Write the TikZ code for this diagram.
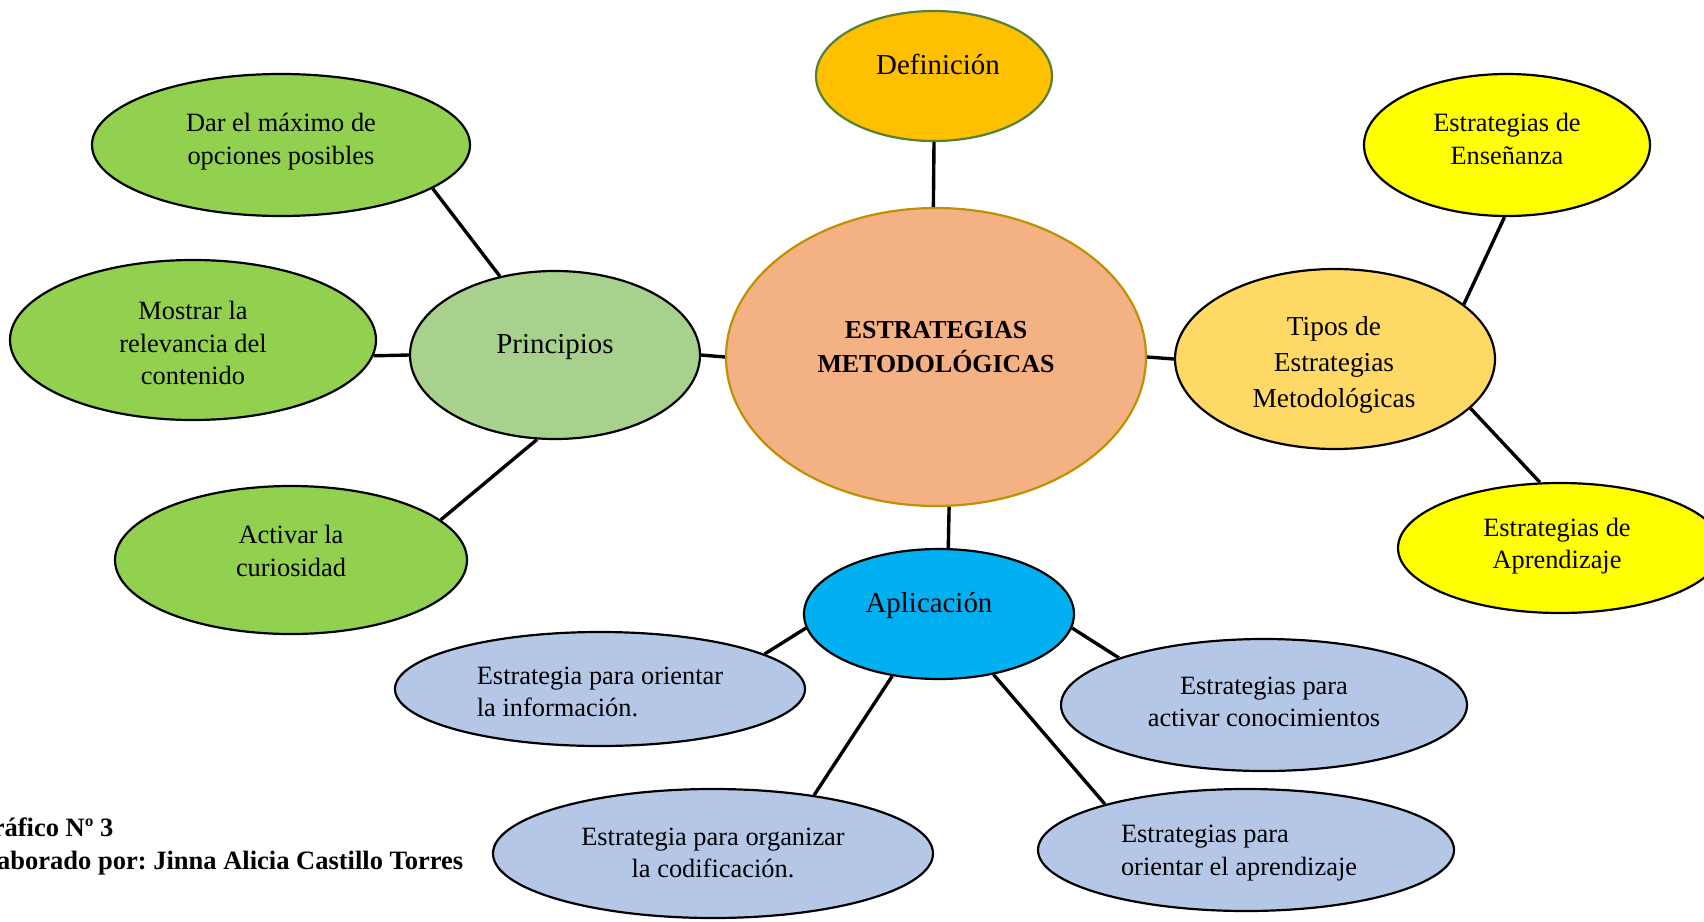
\documentclass[tikz,border=0pt]{standalone}
\usepackage{fontspec}
\setmainfont{Liberation Serif}
\usetikzlibrary{shapes.geometric}
\definecolor{cDef}{HTML}{FFC000}
\definecolor{cDefB}{HTML}{538135}
\definecolor{cCen}{HTML}{F4B183}
\definecolor{cCenB}{HTML}{BF9000}
\definecolor{cPrin}{HTML}{A9D18E}
\definecolor{cGreen}{HTML}{92D050}
\definecolor{cTipos}{HTML}{FFD966}
\definecolor{cYellow}{HTML}{FFFF00}
\definecolor{cApl}{HTML}{00B0F0}
\definecolor{cBlue}{HTML}{B4C7E7}
\frenchspacing
\begin{document}
\begin{tikzpicture}[x=1bp,y=-1bp,
  oval/.style={ellipse, draw=black, line width=2.2pt, inner sep=0pt},
  conn/.style={draw=black, line width=3.4pt},
  bigtxt/.style={font=\fontsize{29}{34}\selectfont, align=center, inner sep=0pt},
  midtxt/.style={font=\fontsize{27.5}{36.5}\selectfont, align=center, inner sep=0pt},
  smalltxt/.style={font=\fontsize{26.5}{32.5}\selectfont, align=center, inner sep=0pt},
  boldtxt/.style={font=\fontsize{26}{33.7}\selectfont\bfseries, align=center, inner sep=0pt},
  foottxt/.style={font=\fontsize{26.6}{33}\selectfont\bfseries, inner sep=0pt, anchor=base west}]
\path[use as bounding box, clip] (0,0) rectangle (1704,921);
\fill[white] (0,0) rectangle (1704,921);

% ellipses
\node[oval, fill=cDef, draw=cDefB, minimum width=236bp, minimum height=130bp] (def) at (934,76) {};
\node[oval, fill=cCen, draw=cCenB, minimum width=420bp, minimum height=298bp] (cen) at (936,357) {};
\node[oval, fill=cPrin, minimum width=290bp, minimum height=168bp] (prin) at (555,355) {};
\node[oval, fill=cGreen, minimum width=378bp, minimum height=142bp] (dar) at (281,145) {};
\node[oval, fill=cGreen, minimum width=366bp, minimum height=160bp] (most) at (193,340) {};
\node[oval, fill=cGreen, minimum width=352bp, minimum height=148bp] (act) at (291,560) {};
\node[oval, fill=cTipos, minimum width=320bp, minimum height=180bp] (tipos) at (1335,359) {};
\node[oval, fill=cYellow, minimum width=286bp, minimum height=142bp] (ens) at (1507,145) {};
\node[oval, fill=cYellow, minimum width=324bp, minimum height=130bp] (apr) at (1560,548) {};
\node[oval, fill=cApl, minimum width=270bp, minimum height=130bp] (apl) at (939,614) {};
\node[oval, fill=cBlue, minimum width=410bp, minimum height=114bp] (info) at (600,689) {};
\node[oval, fill=cBlue, minimum width=406bp, minimum height=132bp] (act2) at (1264,705) {};
\node[oval, fill=cBlue, minimum width=440bp, minimum height=129bp] (org) at (713,853.5) {};
\node[oval, fill=cBlue, minimum width=416bp, minimum height=122bp] (apr2) at (1246,850) {};

% connectors
\draw[conn] (def.south) -- (cen.91);
\draw[conn] (cen.west) -- (prin.east);
\draw[conn] (cen.east) -- (tipos.west);
\draw[conn] (cen.-85) -- (apl.82);
\draw[conn] (prin.125) -- (dar.-16);
\draw[conn] (prin.west) -- (most.-5);
\draw[conn] (prin.-102) -- (act.15);
\draw[conn] (tipos.23) -- (ens.-92);
\draw[conn] (tipos.-20) -- (apr.107);
\draw[conn] (apl.-174) -- (info.12);
\draw[conn] (apl.-6) -- (act2.162);
\draw[conn] (apl.-127) -- (org.30);
\draw[conn] (apl.-48) -- (apr2.162);

% texts
\node[bigtxt] (def-t) at (938,64) {Definición};
\node[boldtxt] (cen-t) at (936,347) {ESTRATEGIAS\\METODOLÓGICAS};
\node[bigtxt] (prin-t) at (555,347) {Principios};
\node[smalltxt] (dar-t) at (281,141.5) {Dar el máximo de\\opciones posibles};
\node[smalltxt] (most-t) at (193,343) {Mostrar la\\relevancia del\\contenido};
\node[smalltxt] (act-t) at (291,551) {Activar la\\curiosidad};
\node[midtxt] (tipos-t) at (1334,365) {Tipos de\\Estrategias\\Metodológicas};
\node[smalltxt] (ens-t) at (1507,139) {Estrategias de\\Enseñanza};
\node[smalltxt] (apr-t) at (1557,546) {Estrategias de\\Aprendizaje};
\node[bigtxt] (apl-t) at (929,606) {Aplicación};
\node[smalltxt, align=left] (info-t) at (600,692) {Estrategia para orientar\\la información.};
\node[smalltxt] (act2-t) at (1264,702) {Estrategias para\\activar conocimientos};
\node[smalltxt] (org-t) at (713,853) {Estrategia para organizar\\la codificación.};
\node[smalltxt, align=left] (apr2-t) at (1239,853) {Estrategias para\\orientar el aprendizaje};

% footer
\node[foottxt] (foot1) at (-28,836) {Gráfico Nº 3};
\node[foottxt] (foot2) at (-28,869) {Elaborado por: Jinna Alicia Castillo Torres};
\end{tikzpicture}
\end{document}
